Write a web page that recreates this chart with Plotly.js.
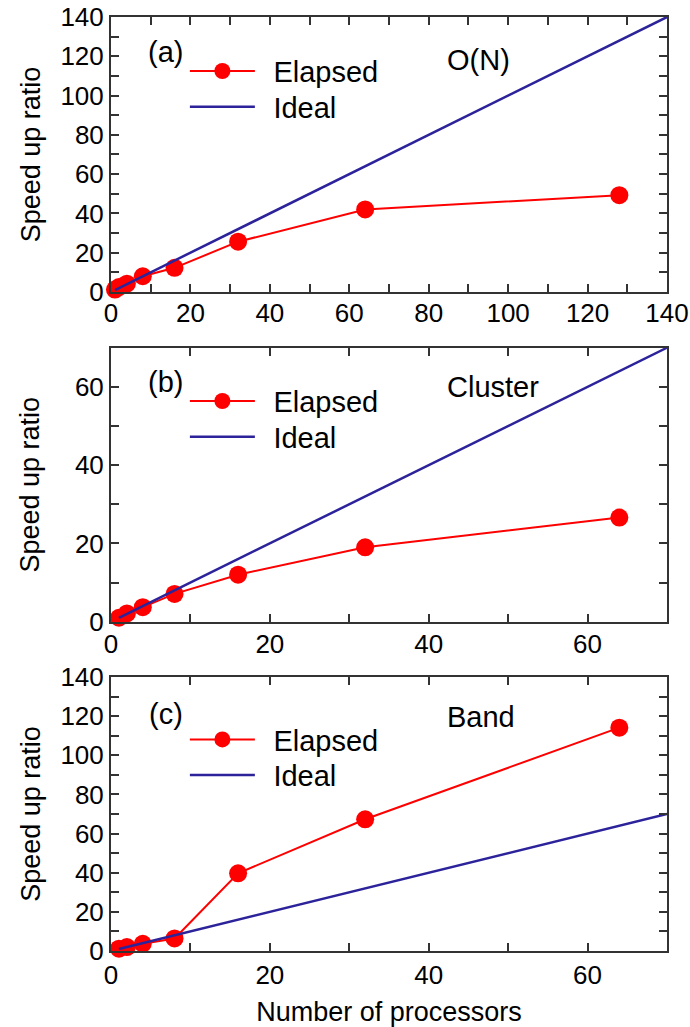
<!DOCTYPE html>
<html>
<head>
<meta charset="utf-8">
<script src="https://cdn.plot.ly/plotly-3.0.1.min.js"></script>
<style>html,body{margin:0;padding:0;background:#fff;}#chart{width:690px;height:1027px;}</style>
</head>
<body>
<div id="chart"></div>
<script>
// Data
const processors = [1, 2, 4, 8, 16, 32, 64, 128];
const processorsBC = [1, 2, 4, 8, 16, 32, 64];
const elapsedON = [1.2, 2.5, 4.2, 8.0, 12.3, 25.6, 42.0, 49.3];
const elapsedCluster = [1.0, 2.1, 3.7, 7.1, 12.0, 19.0, 26.6];
const elapsedBand = [1.2, 2.0, 3.7, 6.4, 39.7, 67.3, 114.1];
const idealA = [1, 140];
const idealBC = [1, 70];
const panelLabels = ["(a)", "(b)", "(c)"];
const panelNames = ["O(N)", "Cluster", "Band"];
const seriesNames = ["Elapsed", "Ideal"];
const yTitle = "Speed up ratio";
const xTitle = "Number of processors";

const RED = "#ff0000";
const BLUE = "#2c239b";
const FONT = "'Liberation Sans', Arial, Helvetica, sans-serif";

function elapsedTrace(x, y, xa, ya, lg) {
  return {x: x, y: y, xaxis: xa, yaxis: ya, legend: lg, name: seriesNames[0],
    type: "scatter", mode: "lines+markers", cliponaxis: false,
    line: {color: RED, width: 2}, marker: {color: RED, size: 18}};
}
function idealTrace(x, xa, ya, lg) {
  return {x: x, y: x, xaxis: xa, yaxis: ya, legend: lg, name: seriesNames[1],
    type: "scatter", mode: "lines", cliponaxis: false,
    line: {color: BLUE, width: 2.5}};
}

const data = [
  elapsedTrace(processors, elapsedON, "x", "y", "legend"),
  idealTrace(idealA, "x", "y", "legend"),
  elapsedTrace(processorsBC, elapsedCluster, "x2", "y2", "legend2"),
  idealTrace(idealBC, "x2", "y2", "legend2"),
  elapsedTrace(processorsBC, elapsedBand, "x3", "y3", "legend3"),
  idealTrace(idealBC, "x3", "y3", "legend3")
];

function axis(range, extra) {
  return Object.assign({
    range: range, dtick: 20, tick0: 0, ticks: "inside", ticklen: 8, tickwidth: 2,
    tickcolor: "#333", showline: true, linecolor: "#333", linewidth: 2, mirror: "ticks",
    showgrid: false, zeroline: false, fixedrange: true,
    tickfont: {family: FONT, size: 26, color: "#000"},
    minor: {dtick: 10, tick0: 0, ticks: "inside", ticklen: 8, tickwidth: 2, tickcolor: "#333", showgrid: false}
  }, extra || {});
}
function ytitle(standoff) {
  return {text: yTitle, font: {family: FONT, size: 27, color: "#000"}, standoff: standoff};
}

const legendBase = {
  xref: "paper", yref: "paper", xanchor: "left", yanchor: "top",
  bgcolor: "rgba(0,0,0,0)", borderwidth: 0, itemwidth: 92, tracegroupgap: 0,
  font: {family: FONT, size: 29, color: "#000"}
};

function ann(text, x, y, xanchor) {
  return {text: text, xref: "paper", yref: "paper", x: x, y: y, xanchor: xanchor, yanchor: "middle",
    showarrow: false, font: {family: FONT, size: 29, color: "#000"}};
}

const layout = {
  width: 690, height: 1027,
  margin: {l: 111, r: 23, t: 17, b: 76},
  paper_bgcolor: "#fff", plot_bgcolor: "#fff",
  showlegend: true,
  xaxis: axis([0, 140], {anchor: "y", domain: [0, 1], ticklabelstandoff: -3}),
  yaxis: axis([0, 140], {anchor: "x", domain: [0.7056, 1], title: ytitle(12)}),
  xaxis2: axis([0, 70], {anchor: "y2", domain: [0, 1], ticklabelstandoff: -2}),
  yaxis2: axis([0, 70], {anchor: "x2", domain: [0.3526, 0.6459], title: ytitle(27)}),
  xaxis3: axis([0, 70], {anchor: "y3", domain: [0, 1],
    title: {text: xTitle, font: {family: FONT, size: 27, color: "#000"}, standoff: 18}}),
  yaxis3: axis([0, 140], {anchor: "x3", domain: [0, 0.2934], title: ytitle(12)}),
  legend: Object.assign({}, legendBase, {x: 0.1086, y: 0.9693}),
  legend2: Object.assign({}, legendBase, {x: 0.1086, y: 0.6160}),
  legend3: Object.assign({}, legendBase, {x: 0.1086, y: 0.2537}),
  annotations: [
    ann(panelLabels[0], 0.0989, 0.9630, "center"),
    ann(panelNames[0], 0.6007, 0.954, "left"),
    ann(panelLabels[1], 0.0989, 0.6092, "center"),
    ann(panelNames[1], 0.6007, 0.6039, "left"),
    ann(panelLabels[2], 0.0989, 0.2537, "center"),
    ann(panelNames[2], 0.6007, 0.2505, "left")
  ]
};

Plotly.newPlot("chart", data, layout, {displayModeBar: false, staticPlot: true}).then(function (gd) {
  // lengthen legend line symbols (kept centred on the legend marker) to match the reference
  gd.querySelectorAll(".legendlines path").forEach(function (p) {
    var d = p.getAttribute("d") || "";
    var m = d.match(/M\s*([-\d.e]+)[ ,]+([-\d.e]+)\s*[hH]\s*([-\d.e]+)/);
    var c = m ? parseFloat(m[1]) + parseFloat(m[3]) / 2 : 20;
    p.setAttribute("d", "M" + (c - 32.5) + ",0h65");
  });
  // tighten legend row spacing to match the reference
  gd.querySelectorAll("g.traces").forEach(function (g) {
    if ((g.textContent || "").indexOf(seriesNames[1]) !== -1) {
      var t = g.getAttribute("transform") || "";
      var m = t.match(/translate\(\s*([-\d.e]+)[ ,]+([-\d.e]+)\s*\)/);
      if (m) g.setAttribute("transform", "translate(" + m[1] + "," + (parseFloat(m[2]) - 5) + ")");
    }
  });
});
</script>
</body>
</html>
